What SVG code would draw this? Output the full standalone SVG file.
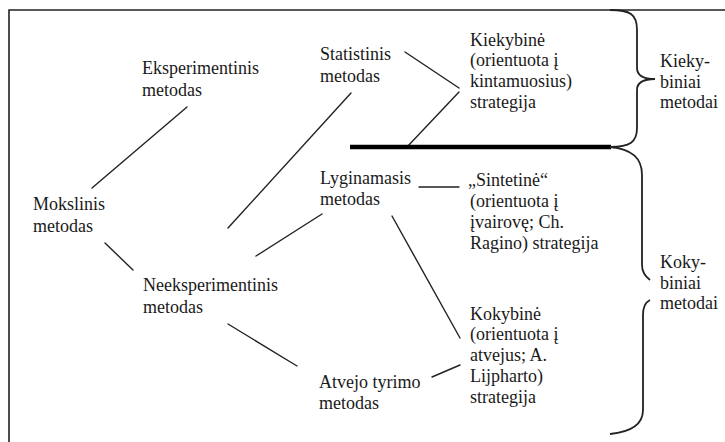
<svg xmlns="http://www.w3.org/2000/svg" width="725" height="442" viewBox="0 0 725 442">
<style>
text{font-family:"Liberation Serif","Times New Roman",serif;font-size:18px;fill:#1a1a1a}
.c{stroke:#222;stroke-width:1.4;fill:none;stroke-linecap:round}
.b{stroke:#222;stroke-width:1.8;fill:none}
</style>
<rect width="725" height="442" fill="#fff"/>
<path d="M9,442 L9,10 L725,10" fill="none" stroke="#222" stroke-width="1.6"/>
<g id="connectors">
<line class="c" x1="187" y1="107" x2="92" y2="188"/>
<line class="c" x1="105" y1="243" x2="133" y2="270"/>
<line class="c" x1="351" y1="93" x2="228" y2="228"/>
<line class="c" x1="256" y1="256" x2="322" y2="214"/>
<line class="c" x1="228" y1="324" x2="297" y2="366"/>
<line class="c" x1="405" y1="52" x2="459" y2="88"/>
<line class="c" x1="459" y1="92" x2="407" y2="147"/>
<line class="c" x1="419" y1="187" x2="459" y2="187"/>
<line class="c" x1="392" y1="216" x2="460" y2="338"/>
<line class="c" x1="432" y1="377" x2="460" y2="365"/>
<line x1="350" y1="147" x2="611" y2="147" stroke="#000" stroke-width="4.5"/>
</g>
<g id="braces">
<path class="b" d="M610,10 C630,10 637,14 637,30 L637,68 C637,76 645,79 655,79 C645,79 637,82 637,90 L637,128 C637,142 630,147 610,147"/>
<path class="b" d="M610,147 C632,149 642,158 642,175 L642,265 C642,273 646,277 650,280"/>
<path class="b" d="M650,300 C646,302 643,306 643,315 L643,410 C643,425 630,432 610,434"/>
</g>
<g id="n-mokslinis"><text x="33" y="210">Mokslinis</text><text x="33" y="232">metodas</text></g>
<g id="n-eksperimentinis"><text x="142" y="74">Eksperimentinis</text><text x="142" y="96">metodas</text></g>
<g id="n-neeksperimentinis"><text x="143" y="291">Neeksperimentinis</text><text x="143" y="313">metodas</text></g>
<g id="n-statistinis"><text x="320" y="60">Statistinis</text><text x="320" y="82">metodas</text></g>
<g id="n-lyginamasis"><text x="320" y="184">Lyginamasis</text><text x="320" y="205">metodas</text></g>
<g id="n-atvejo"><text x="319" y="388">Atvejo tyrimo</text><text x="319" y="409">metodas</text></g>
<g id="n-kiekybine"><text x="470" y="46">Kiekybinė</text><text x="470" y="66">(orientuota į</text><text x="470" y="87">kintamuosius)</text><text x="470" y="108">strategija</text></g>
<g id="n-sintetine"><text x="468" y="186">„Sintetinė“</text><text x="470" y="207">(orientuota į</text><text x="470" y="228">įvairovę; Ch.</text><text x="470" y="249">Ragino) strategija</text></g>
<g id="n-kokybine"><text x="470" y="320">Kokybinė</text><text x="470" y="340">(orientuota į</text><text x="470" y="361">atvejus; A.</text><text x="470" y="382">Lijpharto)</text><text x="470" y="403">strategija</text></g>
<g id="n-kiekybiniai"><text x="660" y="67">Kieky-</text><text x="660" y="88">biniai</text><text x="660" y="108">metodai</text></g>
<g id="n-kokybiniai"><text x="660" y="268">Koky-</text><text x="660" y="289">biniai</text><text x="660" y="309">metodai</text></g>
</svg>
